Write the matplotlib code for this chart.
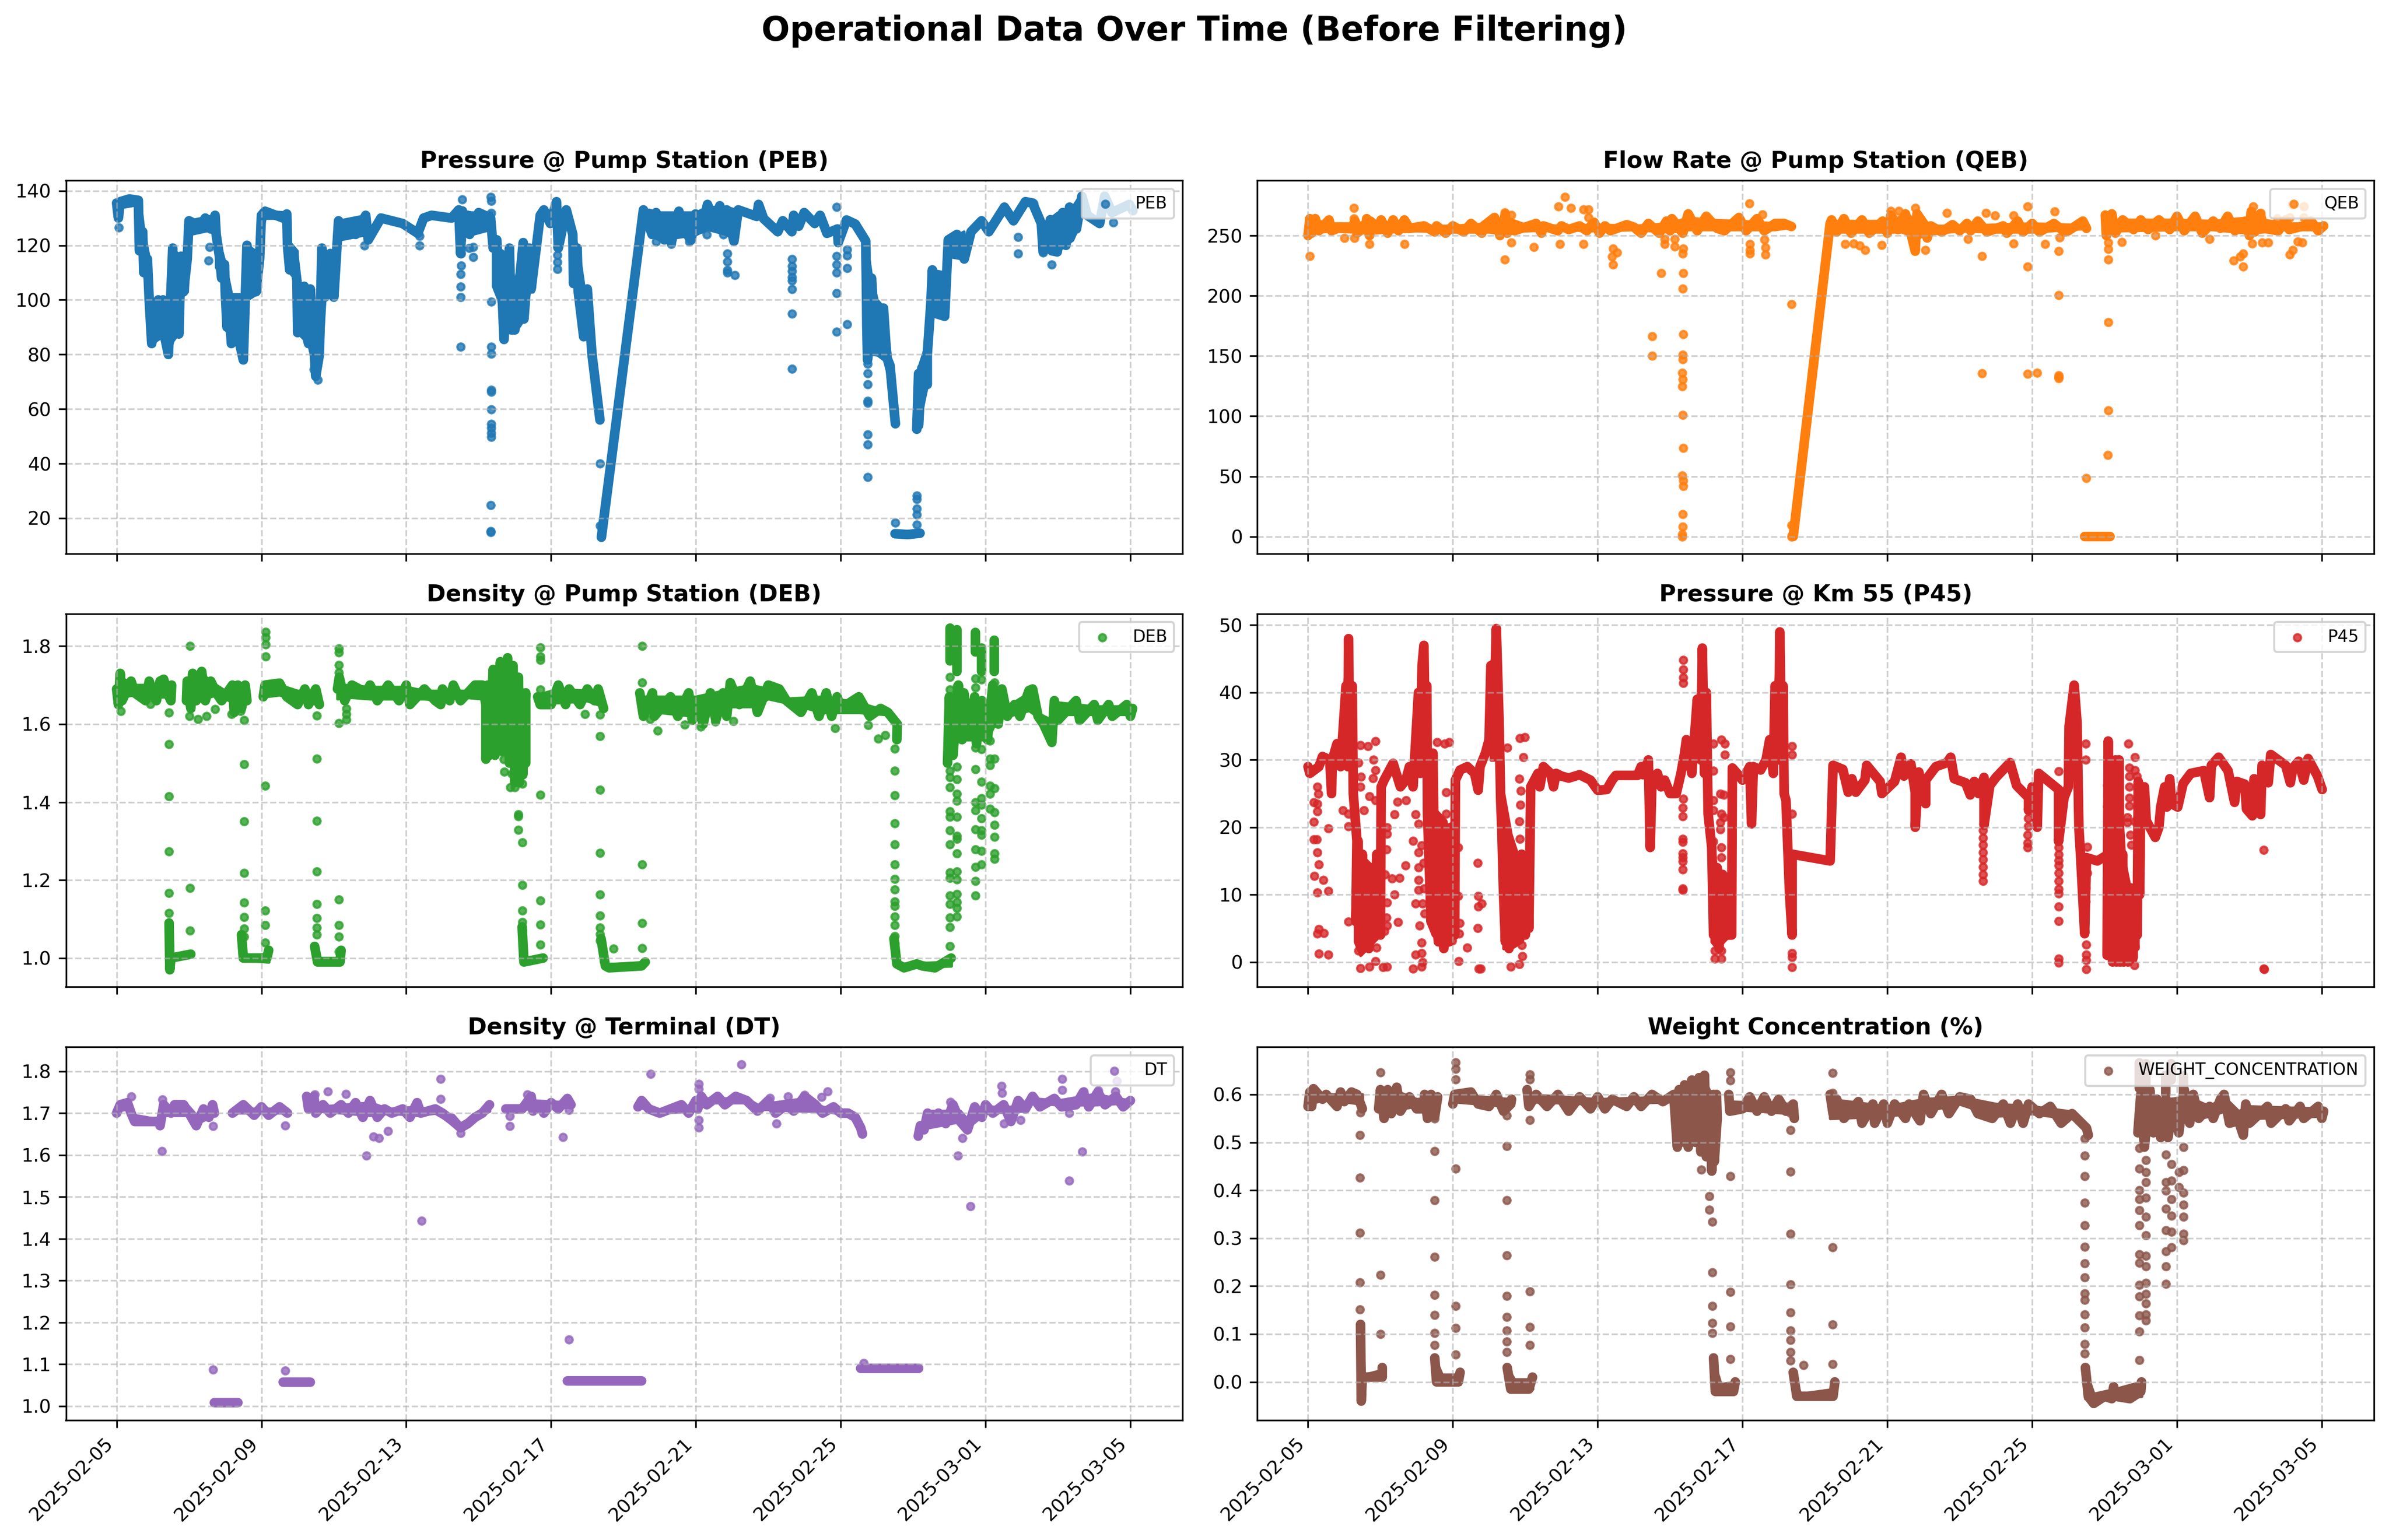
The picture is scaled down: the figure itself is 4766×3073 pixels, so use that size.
import numpy as np
import pandas as pd
import matplotlib
matplotlib.use("Agg")
import matplotlib.pyplot as plt
import matplotlib.dates as mdates

n = float("nan")
BREAK = (n, n)
GAP = (n, n, n)
START = "2025-02-05"
TICK_DATES = ["2025-02-05", "2025-02-09", "2025-02-13", "2025-02-17", "2025-02-21",
              "2025-02-25", "2025-03-01", "2025-03-05"]
TITLES = ["Pressure @ Pump Station (PEB)", "Flow Rate @ Pump Station (QEB)",
          "Density @ Pump Station (DEB)", "Pressure @ Km 55 (P45)",
          "Density @ Terminal (DT)", "Weight Concentration (%)"]
LABELS = ["PEB", "QEB", "DEB", "P45", "DT", "WEIGHT_CONCENTRATION"]
COLORS = ["#1f77b4", "#ff7f0e", "#2ca02c", "#d62728", "#9467bd", "#8c564b"]
YLIMS = [(7.0, 143.8), (-14.2, 295.8), (0.926, 1.883), (-3.7, 51.7), (0.966, 1.858), (-0.08, 0.699)]

# (days after start, value): course of each series
PEB_TRACE = [(0.0,135.5),(0.05,130),(0.1,136),(0.35,137),(0.6,136.5),(0.63,118),(0.72,125),(0.75,110),(0.85,115),(0.9,100),(0.97,84),(1.05,99),(1.1,87),(1.15,100),(1.2,88),(1.28,100),(1.32,87),(1.43,80),(1.55,119),(1.58,88),(1.65,116),(1.72,87.5),(1.78,116),(1.85,103),(1.95,115),(2.0,129),(2.3,127),(2.45,130),(2.6,126),(2.72,131),(2.75,124),(2.85,115),(2.9,108),(2.98,113),(3.0,103),(3.05,90),(3.1,100),(3.17,84),(3.25,100),(3.35,87),(3.5,78),(3.6,120),(3.68,102),(3.75,117),(3.85,103),(3.95,115),(4.0,131),(4.1,132.5),(4.6,130),(4.7,131.5),(4.72,120),(4.78,111),(4.9,116),(4.98,107),(5.0,88),(5.18,105),(5.2,90),(5.3,84),(5.35,104),(5.5,72),(5.6,80),(5.67,119),(5.75,101),(5.9,117),(6.0,101),(6.13,129),(6.3,125),(6.4,128),(6.6,124),(6.88,131),(6.95,122),(7.3,130),(7.6,129),(7.9,128),(8.32,124.4),(8.48,130),(8.7,131),(9.25,130),(9.45,133),(9.5,117),(9.55,132.6),(9.75,124),(10.0,132),(10.33,130),(10.4,119),(10.5,122),(10.55,107),(10.6,117),(10.7,85.5),(10.85,119),(10.9,89),(11.0,89),(11.23,121),(11.25,93),(11.4,119),(11.45,104),(11.7,131),(11.8,133),(11.98,128),(12.15,136),(12.2,119),(12.42,133),(12.6,124),(12.62,106),(12.72,119),(12.75,103),(12.9,86.5),(13.0,104),(13.13,80),(13.35,56),
    BREAK,(13.39,13),(14.55,133),(14.79,124),(14.9,132),(15.13,122),(15.24,130),(15.32,121),(15.53,132.5),(15.64,126),(15.87,122),(15.99,131.5),(16.17,126),(16.32,135),(16.5,128.8),(16.66,134.5),(16.76,126.6),(16.85,133),(17.05,121.5),(17.17,133),(17.68,130.6),(17.73,135),(17.87,129.8),(18.26,125),(18.4,129),(18.65,125),(18.7,131),(18.84,127),(18.99,132),(19.28,128),(19.43,131),(19.62,124.4),(19.91,126),(19.93,121),(20.16,129.3),(20.4,127.8),(20.69,121.6),(20.71,104),(20.72,90),(20.74,78),(20.85,108),(20.98,81),(21.07,81),(21.18,97),(21.27,79),(21.36,76),(21.51,54.6),
    BREAK,(21.5,14.3),(21.85,14),(22.19,14.5),
    BREAK,(22.1,52.6),(22.15,73),(22.15,54),(22.24,75),(22.39,69),(22.39,80),(22.49,99),(22.53,111),(22.63,95),(22.87,94),(22.97,122),(23.21,124),(23.41,115),(23.6,125),(23.89,129),(24.09,125),(24.52,134),(24.77,129),(25.1,136),(25.3,135.5),(25.54,128),(25.59,117.6),(25.79,129.4),(25.83,118),(25.98,117.6),(26.13,132),(26.22,120),(26.32,134),(26.51,126),(26.66,138),(26.81,131),(27.15,128),(27.29,138),(27.49,132),(27.97,135),(28.07,132.7)]
# (days after start, low, high): solid envelope of the dense stretches
PEB_BAND = [(0.15,134,137),(0.6,135,137),(0.65,118,136),(0.75,110,125),(0.9,100,115),(0.97,84,100),(1.3,87,100),(1.43,80,100),(1.55,85,119),(1.72,88,116),(1.78,103,116),(1.95,103,116),(2.0,124,129),(2.7,126,131),GAP,
    (2.75,112,128),(2.9,108,118),(3.0,90,113),(3.17,84,102),(3.4,87,102),(3.5,78,100),(3.6,100,120),(3.95,103,117),(4.0,125,131),(4.1,130,132.5),(4.7,130,132),GAP,
    (4.72,111,122),(4.98,107,118),(5.0,88,106),(5.3,84,105),(5.5,72,90),(5.65,78,119),(5.75,101,118),(6.0,101,117),(6.13,122,129),(6.9,124,131),GAP,
    (9.4,128,133),(9.8,124,132),(10.35,126,132),GAP,
    (10.4,105,122),(10.55,100,118),(10.7,85.5,100),(10.85,90,119),(11.0,88,105),(11.2,92,121),(11.4,103,119),(11.5,103,112),(11.7,125,131),GAP,
    (12.6,106,124),(12.75,103,119),(12.9,86.5,105),(13.0,88,104),(13.13,80,90),GAP,
    (14.7,124,133),(15.0,122,132),(16.0,124,132),(16.3,126,134),(16.85,124,134),(17.1,122,133),GAP,
    (20.7,88,122),(20.85,80,108),(21.0,80,100),(21.2,78,97),(21.36,70,80),GAP,
    (22.15,54,75),(22.39,69,85),(22.5,95,111),(22.87,94,110),(22.97,116,122),(23.4,115,125),GAP,
    (25.6,118,128),(26.0,118,132),(26.4,122,134),(26.6,128,138),GAP]
PEB_OUT = [(0.06,126.6),(2.56,119.4),(2.54,114.4),(6.84,120),(8.37,120),(8.37,123.4),(9.54,136.8),(10.34,137.8),(10.35,136.3),(10.35,131.8),(9.51,121.9),(9.51,116.9),(9.51,112.6),(9.5,109.4),(9.5,104.8),(9.5,101),(9.5,82.8),(9.74,119),(9.85,119.4),(9.85,115.7),(10.35,99.3),(10.35,82.8),(10.35,80.3),(10.35,67.1),(10.35,66.3),(10.35,59.8),(10.35,54.6),(10.35,53.1),(10.35,51.2),(10.35,49.7),(10.34,24.8),(10.33,14.8),(10.33,15.2),(13.35,40),(13.35,17.3),(12.17,116.4),(12.17,113.9),(12.18,111.2),(12.18,119.4),(5.56,70.6),(5.44,74.6),(14.9,121.4),(14.81,124.4),(15.32,120.4),(15.82,121.4),(19.89,134),(16.3,124),(16.76,124),(16.87,117),(16.87,114),(16.87,111),(16.87,110),(17.07,109),(18.65,115),(18.65,112.4),(18.65,110.6),(18.65,108.4),(18.65,107),(18.65,104),(18.65,95),(18.65,74.8),(19.89,116),(19.89,113),(19.89,110),(19.89,102.5),(19.89,88.3),(20.17,118.4),(20.17,116.2),(20.17,111.6),(20.17,91),(20.74,79),(20.74,76.6),(20.74,73),(20.74,69),(20.74,63),(20.74,62.3),(20.74,50.7),(20.74,47),(20.74,35),(22.1,28.2),(22.1,27),(22.1,23.5),(22.1,21.3),(22.1,17.6),(21.51,18.3),(24.9,117),(25.83,113),(25.59,117.4),(27.53,128.3),(25.32,135.3),(24.9,123)]

QEB_TRACE = [(0.0,250),(0.05,264),(0.1,252),(0.2,264),(0.3,254),(0.58,263),(0.65,254),(0.9,257),(1.2,256),(1.3,262),(1.35,252),(1.6,258),(1.62,264),(1.7,250),(1.72,262),(1.95,256),(2.02,263),(2.2,252),(2.35,263),(2.5,254),(2.66,263),(2.8,256),(3.2,258),(3.5,253),(3.55,258),(3.8,252),(4.0,258),(4.3,253),(4.5,260),(4.8,252),(4.85,258),(5.15,265),(5.3,250),(5.45,268),(5.5,252),(5.6,258),(5.7,254),(6.3,260),(6.45,252),(6.5,258),(6.9,254),(7.0,258),(7.2,255),(7.5,258),(7.7,254),(7.9,261),(8.05,252),(8.2,258),(8.35,254),(8.8,259),(9.0,257),(9.2,252),(9.4,260),(9.7,252),(9.9,262),(10.0,254),(10.05,264),(10.35,252),(10.5,268),(10.75,254),(11.0,266),(11.3,256),(11.5,254),(11.9,265),(12.1,254),(12.4,264),(12.6,254),(12.9,260),(13.15,260),(13.35,257.5),
    BREAK,(13.4,0),(14.42,260),(14.46,263),(14.6,253),(14.8,264),(15.0,252),(15.3,263),(15.5,252),(15.87,262),(16.0,252),(16.1,267),(16.3,255),(16.5,268),(16.65,252),(16.77,237),(16.82,268),(17.05,258),(17.1,248),(17.2,258),(17.5,253),(17.8,259),(18.0,254),(18.2,260),(18.3,254),(18.5,262),(18.75,253),(19.2,258),(19.3,252),(19.6,262),(19.75,253),(20.0,260),(20.2,253),(20.6,260),(20.9,253),(21.0,254),(21.4,262),(21.5,256),
    BREAK,(21.45,0),(22.15,0),
    BREAK,(22.02,267),(22.05,250),(22.2,268),(22.3,252),(22.5,263),(22.8,255),(23.0,263),(23.2,255),(23.5,263),(23.8,255),(24.0,266),(24.2,254),(24.5,266),(24.7,252),(25.0,262),(25.2,256),(25.4,266),(25.6,254),(25.9,262),(26.0,250),(26.05,270),(26.15,253),(26.3,268),(26.4,256),(26.8,254),(27.0,263),(27.1,255),(27.5,258),(27.7,262),(27.9,254),(28.05,258)]
QEB_BAND = [(0,252,262),(0.3,253,262),(0.65,254,260),(1.3,253,260),(1.7,252,262),(2.2,253,260),(3.0,254,258),(4,253,258),(5.0,253,260),(5.3,252,262),(5.45,253,265),(6,254,259),(7,255,258),(8,254,259),(9,255,258),(10,253,260),(10.5,255,265),(11,255,263),(12,255,262),(12.9,255,260),(13.35,257,260),GAP,
    (14.45,253,262),(16,253,262),(16.4,253,266),(16.85,248,265),(17.05,251,258),(18,254,258),(19,253,259),(20,253,260),(21,255,259),(21.5,256,259),GAP,
    (22.02,252,265),(22.3,254,263),(24,255,263),(25,255,262),(26,252,265),(27,255,260),(28.05,255,260)]
QEB_OUT = [(1.27,273),(1.27,264),(1.0,248),(1.28,248),(1.7,243),(2.66,243),(0.05,233),(5.44,269),(5.44,230),(5.62,267),(5.62,244),(6.23,240.5),(6.92,274),(7.09,282),(7.26,273),(6.96,243),(7.61,243),(7.61,271.5),(7.74,271.5),(7.74,265),(8.42,239),(8.4,232.6),(8.42,226),(8.53,236),(9.5,166.5),(9.5,150),(9.75,219),(10.36,219),(10.35,206),(10.36,168),(10.35,151),(10.35,147),(10.34,136),(10.35,130.5),(10.34,124.7),(10.35,101),(10.36,73.4),(10.34,50.8),(10.36,46.3),(10.36,41.8),(10.35,18.7),(10.35,8),(10.34,2),(10.34,0),(10.35,235),(10.36,239),(10.13,241),(10.13,247),(9.85,243),(9.85,247),(12.19,276.6),(12.2,235),(12.2,238),(12.2,243),(12.6,246.6),(12.63,240),(12.63,234),(12.55,267.6),(13.35,193),(13.35,9.5),(13.35,0),(13.37,1),(14.84,243),(15.07,243.5),(15.23,241.6),(15.39,238),(15.85,242),(16.1,270.5),(16.32,270.5),(16.77,273),(16.77,238.7),(17.05,238),(17.65,268.7),(18.22,247),(18.62,233),(18.72,268.7),(18.97,266.5),(19.49,266.5),(19.49,243.5),(19.88,274),(19.87,224),(20.36,243),(20.62,270),(20.73,237),(20.76,248.4),(20.73,200.5),(18.62,135.5),(19.87,135),(20.14,136),(20.73,134),(20.73,132.8),(20.73,131.4),(22.1,178),(22.1,104.6),(22.09,67.5),(21.49,48.6),(22.1,244),(22.1,238.7),(22.1,230),(22.48,244.6),(25.56,229),(25.74,232.6),(25.82,235),(25.82,224),(26.11,274),(26.31,268.7),(26.07,243.5),(26.35,244),(26.52,244),(24.9,247),(27.19,276),(27.12,234),(27.2,238),(27.33,245),(27.46,244),(27.5,274),(27.5,265),(27.11,265),(26.77,264),(23.4,250)]

DEB_TRACE = [(0.0,1.69),(0.05,1.65),(0.1,1.73),(0.15,1.66),(0.4,1.71),(0.5,1.68),(0.8,1.66),(0.9,1.71),(1.0,1.68),(1.1,1.66),(1.2,1.71),(1.3,1.715),(1.4,1.68),(1.5,1.66),(1.52,1.70),
    BREAK,(1.93,1.66),(1.95,1.71),(2.05,1.64),(2.1,1.73),(2.2,1.66),(2.35,1.735),(2.45,1.66),(2.6,1.71),(2.75,1.68),(2.9,1.66),(3.2,1.70),(3.25,1.63),(3.35,1.70),(3.45,1.64),(3.55,1.70),(3.6,1.66),
    BREAK,(4.05,1.67),(4.1,1.70),(4.5,1.705),(4.7,1.67),(5.0,1.65),(5.2,1.69),(5.3,1.65),(5.5,1.69),(5.6,1.65),
    BREAK,(6.1,1.69),(6.15,1.72),(6.3,1.66),(6.5,1.70),(6.9,1.68),(7.0,1.70),(7.2,1.66),(7.5,1.70),(7.8,1.66),(8.0,1.70),(8.1,1.65),(8.3,1.67),(8.5,1.69),(8.8,1.66),(8.95,1.65),(9.0,1.69),(9.2,1.66),(9.3,1.70),(9.5,1.66),(9.6,1.67),(9.9,1.70),(10.1,1.70),(10.2,1.65),(10.2,1.51),(10.25,1.70),(10.3,1.52),(10.4,1.74),(10.45,1.52),(10.6,1.76),(10.65,1.53),(10.8,1.77),(10.85,1.5),(10.95,1.75),(11.0,1.45),(11.1,1.72),(11.12,1.45),(11.2,1.68),(11.22,1.47),(11.3,1.68),(11.3,1.5),
    BREAK,(11.63,1.67),(11.7,1.65),(12.0,1.65),(12.2,1.70),(12.4,1.65),(12.5,1.69),(12.8,1.65),(13.0,1.69),(13.2,1.66),(13.3,1.69),(13.45,1.64),
    BREAK,(14.45,1.68),(14.55,1.62),(14.8,1.68),(14.85,1.62),(15.3,1.67),(15.5,1.62),(15.8,1.68),(15.9,1.61),(16.0,1.66),(16.2,1.60),(16.4,1.68),(16.55,1.61),(16.75,1.68),(16.85,1.62),(16.95,1.706),(17.2,1.65),(17.5,1.71),(17.7,1.63),(18.0,1.70),(18.3,1.69),(18.5,1.66),(18.9,1.63),(19.2,1.68),(19.4,1.62),(19.6,1.68),(19.75,1.62),(19.9,1.67),(20.0,1.64),(20.5,1.67),(20.8,1.62),(21.1,1.64),(21.3,1.63),(21.56,1.60),(21.55,1.56),
    BREAK,(1.45,1.09),(1.47,0.97),(1.5,1.0),(2.05,1.01),
    BREAK,(3.45,1.06),(3.5,1.0),(4.15,1.0),(4.2,1.02),
    BREAK,(5.47,1.03),(5.55,0.99),(6.17,0.99),(6.2,1.02),
    BREAK,(11.2,1.08),(11.25,0.99),(11.78,1.0),
    BREAK,(13.38,1.05),(13.5,0.98),(13.6,0.975),(14.5,0.98),(14.6,0.99),
    BREAK,(21.47,1.05),(21.55,0.985),(21.75,0.975),(22.1,0.985),(22.25,0.98),(22.6,0.975),(23.05,1.0),
    BREAK,(23.02,1.846),(23.02,1.762),BREAK,(23.21,1.842),(23.21,1.735),BREAK,(23.72,1.835),(23.72,1.785),BREAK,(23.89,1.795),(23.89,1.735),BREAK,(24.24,1.815),(24.24,1.735),
    BREAK,(22.95,1.50),(23.0,1.67),(23.1,1.52),(23.25,1.70),(23.35,1.56),(23.4,1.68),(23.55,1.57),(23.7,1.67),(23.75,1.55),(23.9,1.66),(24.05,1.56),(24.2,1.70),(24.35,1.60),(24.45,1.69),(24.6,1.62),(24.8,1.65),(24.95,1.62),(25.2,1.686),(25.3,1.69),(25.45,1.62),(25.6,1.60),(25.83,1.553),(25.9,1.66),(26.0,1.61),(26.5,1.66),(26.6,1.61),(27.0,1.65),(27.1,1.61),(27.4,1.65),(27.5,1.62),(27.9,1.65),(28.0,1.62),(28.06,1.64)]
DEB_BAND = [(0,1.66,1.70),(0.1,1.67,1.72),(0.5,1.675,1.70),(1.0,1.67,1.70),(1.5,1.67,1.70),GAP,
    (1.93,1.66,1.71),(2.1,1.65,1.725),(2.4,1.665,1.725),(2.75,1.675,1.70),(3.0,1.665,1.685),(3.25,1.655,1.69),(3.6,1.655,1.69),GAP,
    (4.05,1.67,1.695),(4.5,1.675,1.70),(5.0,1.66,1.685),(5.6,1.65,1.68),GAP,
    (6.1,1.665,1.71),(6.3,1.67,1.70),(7.0,1.665,1.695),(8.0,1.665,1.695),(8.5,1.665,1.685),(9.0,1.66,1.685),(9.5,1.67,1.685),(10.1,1.665,1.685),GAP,
    (10.2,1.52,1.69),(10.4,1.53,1.73),(10.8,1.53,1.76),(11.0,1.48,1.74),(11.2,1.48,1.67),(11.3,1.51,1.67),GAP,
    (11.63,1.655,1.675),(12.2,1.655,1.69),(13.0,1.66,1.685),(13.45,1.645,1.665),GAP,
    (14.45,1.63,1.67),(15.0,1.63,1.67),(16.0,1.62,1.67),(17.0,1.645,1.69),(17.5,1.645,1.70),(18.0,1.665,1.69),(18.5,1.655,1.665),(19.5,1.63,1.67),(20.5,1.63,1.655),(21.2,1.625,1.635),GAP,
    (1.45,0.98,1.08),(1.52,1.0,1.08),(1.55,1.005,1.01),(2.05,1.005,1.015),GAP,
    (3.45,0.995,1.05),(3.6,0.995,1.005),(4.2,0.99,1.005),GAP,
    (5.47,0.995,1.03),(5.6,0.99,1.0),(6.2,0.99,1.0),GAP,
    (11.2,0.995,1.08),(11.3,0.99,0.995),(11.78,0.995,1.0),GAP,
    (13.38,0.99,1.04),(13.5,0.98,0.985),(14.6,0.98,0.985),GAP,
    (21.47,0.99,1.04),(21.6,0.975,0.985),(23.05,0.98,0.99),GAP,
    (22.9,1.57,1.66),(23.3,1.56,1.67),(23.7,1.56,1.65),(24.05,1.56,1.66),(24.3,1.61,1.69),(24.6,1.62,1.645),(25.2,1.635,1.68),(25.5,1.615,1.625),(25.83,1.58,1.61),(26,1.625,1.655),(27,1.625,1.645),(28.05,1.625,1.645)]
DEB_OUT = [(2.03,1.80),(1.44,1.63),(1.44,1.548),(1.44,1.415),(1.44,1.274),(1.44,1.167),(1.44,1.116),(2.02,1.18),(2.02,1.07),(3.52,1.61),(3.52,1.497),(3.52,1.35),(3.52,1.218),(3.52,1.142),(3.52,1.105),(3.52,1.076),(3.52,1.055),(4.12,1.836),(4.12,1.822),(4.12,1.804),(4.12,1.773),(4.11,1.442),(4.11,1.122),(4.11,1.084),(4.11,1.04),(5.53,1.622),(5.53,1.511),(5.53,1.352),(5.53,1.222),(5.53,1.139),(5.53,1.102),(5.53,1.078),(5.53,1.06),(6.14,1.794),(6.14,1.783),(6.14,1.752),(6.14,1.732),(6.14,1.602),(6.35,1.64),(6.35,1.626),(6.35,1.611),(6.14,1.15),(6.14,1.084),(6.14,1.055),(6.14,1.017),(2.72,1.638),(2.25,1.613),(2.49,1.62),(2.01,1.62),(3.18,1.626),(3.43,1.633),(0.12,1.633),(0.93,1.651),(10.69,1.51),(10.87,1.438),(11.0,1.438),(10.7,1.478),(10.92,1.473),(11.08,1.456),(11.2,1.447),(11.1,1.369),(11.1,1.363),(11.1,1.329),(11.2,1.297),(11.2,1.187),(11.2,1.122),(11.2,1.092),(11.2,1.072),(11.71,1.797),(11.71,1.773),(11.71,1.764),(11.71,1.419),(11.71,1.147),(11.71,1.086),(11.71,1.034),(13.35,1.624),(13.35,1.569),(13.35,1.431),(13.35,1.27),(13.35,1.163),(13.35,1.109),(13.35,1.078),(13.35,1.062),(13.35,1.045),(14.52,1.80),(14.52,1.707),(14.73,1.613),(14.52,1.24),(14.52,1.09),(14.52,1.026),(13.72,1.024),(11.71,1.689),(12.93,1.626),(14.94,1.583),(15.69,1.599),(16.13,1.594),(16.54,1.606),(17.04,1.607),(19.85,1.59),(20.76,1.597),(21.03,1.562),(21.23,1.572),(21.49,1.537),(21.49,1.48),(21.49,1.417),(21.49,1.346),(21.49,1.291),(21.49,1.24),(21.49,1.203),(21.49,1.176),(21.49,1.145),(21.49,1.133),(21.49,1.106),(21.49,1.084),(21.49,1.056),(21.49,1.038),
    (23.02,1.72),(23.02,1.688),(23.02,1.658),(23.02,1.48),(23.02,1.463),(23.02,1.438),(23.02,1.376),(23.02,1.362),(23.02,1.327),(23.02,1.292),(23.02,1.219),(23.02,1.205),(23.02,1.16),(23.02,1.139),(23.02,1.104),(23.02,1.079),(23.02,1.031),
    (23.21,1.696),(23.21,1.675),(23.21,1.49),(23.21,1.459),(23.21,1.421),(23.21,1.403),(23.21,1.362),(23.21,1.313),(23.21,1.306),(23.21,1.268),(23.21,1.222),(23.21,1.201),(23.21,1.164),(23.21,1.144),(23.21,1.128),(23.21,1.106),
    (23.72,1.717),(23.72,1.693),(23.72,1.564),(23.72,1.539),(23.72,1.484),(23.72,1.4),(23.72,1.379),(23.72,1.33),(23.72,1.278),(23.72,1.233),(23.72,1.198),(23.72,1.16),
    (23.89,1.714),(23.89,1.536),(23.89,1.452),(23.89,1.41),(23.89,1.393),(23.89,1.358),(23.89,1.327),(23.89,1.316),(23.89,1.275),(23.89,1.24),
    (24.12,1.557),(24.12,1.511),(24.12,1.494),(24.12,1.442),(24.12,1.421),(24.12,1.383),
    (24.24,1.707),(24.24,1.511),(24.24,1.435),(24.24,1.374),(24.24,1.341),(24.24,1.311),(24.24,1.268),(24.24,1.254)]

P45_TRACE = [(0.0,29),(0.05,28),(0.3,29),(0.4,30.5),(0.6,30),(0.65,25),(0.67,30),(0.8,32.4),(0.9,29),(1.05,41),(1.1,29),(1.12,48),(1.15,30),(1.22,41),(1.25,25),(1.35,18),(1.32,6),(1.38,18),(1.42,3),(1.5,16),(1.55,4),(1.62,14),(1.68,2),(1.78,14),(1.82,4),(1.9,16),(2.0,4),(2.02,26),(2.1,27),(2.35,29.5),(2.55,26),(2.7,27),(2.8,29),(2.9,26),(3.05,40),(3.1,28),(3.15,44),(3.2,47),(3.25,28),(3.28,41),(3.3,22),(3.4,6),(3.45,31),(3.5,10),(3.6,3),(3.65,20),(3.75,2),(3.8,18),(3.9,3),(3.95,20),(4.05,4),(4.07,27),(4.2,28.5),(4.4,29),(4.6,28),(4.7,25.5),(4.75,29),(4.9,31),(5.0,33),(5.05,44),(5.15,40),(5.2,49.5),(5.28,35),(5.32,24),(5.35,20),(5.4,10),(5.45,3),(5.5,14),(5.55,2),(5.6,14),(5.7,4),(5.75,13),(5.85,5),(5.9,16),(6.0,4),(6.05,13),(6.1,5),(6.15,26),(6.25,27),(6.35,28),(6.4,26),(6.5,29),(6.7,28),(6.78,26),(6.85,28),(7.0,27.6),(7.2,27.3),(7.5,27.8),(7.8,27),(8.0,25.5),(8.25,25.6),(8.4,27),(8.5,27.7),(9.1,27.7),(9.2,29),(9.25,27.8),(9.4,30),(9.45,17),(9.5,27),(9.65,28),(9.75,26),(9.85,27),(10.0,25),(10.17,25),(10.3,28),(10.4,31),(10.45,33),(10.6,28),(10.75,39),(10.85,30),(10.89,46.6),(10.95,28),(11.0,40),(11.05,22),(11.15,17),(11.2,4),(11.3,14),(11.35,2),(11.45,13),(11.55,4),(11.7,4),(11.72,28.8),(11.85,28),(12.0,27),(12.2,29),(12.25,20.5),(12.3,29),(12.5,28.5),(12.65,30),(12.75,33),(12.85,28),(12.9,41),(13.0,30),(13.03,49),(13.08,30),(13.12,41),(13.15,25),(13.2,24),(13.3,10),(13.37,4),(13.37,16),(14.42,15),(14.5,29.2),(14.77,28.6),(14.92,25.2),(15.02,27.2),(15.13,25.2),(15.38,27),(15.43,29.2),(15.8,26.8),(15.85,25),(16.2,26.8),(16.38,30.4),(16.46,27.6),(16.65,29.4),(16.77,25.2),(16.77,20),(16.87,28.2),(17.06,23.5),(17.06,27),(17.34,29),(17.65,29.6),(17.75,30.4),(17.85,27.2),(18.16,26.6),(18.29,24.8),(18.4,26.8),(18.52,25),(18.67,27.4),(18.67,20.3),(18.83,26.2),(19.0,27.4),(19.39,29.6),(19.57,26.2),(19.9,24.4),(19.9,22.5),(20.0,26),(20.14,20),(20.18,28),(20.73,25.6),(20.73,17.9),(20.88,24.4),(21.0,26),(21.02,35),(21.16,41.1),(21.24,35.5),(21.29,20),(21.34,15.5),(21.45,4.2),(21.5,15.5),(21.8,15),(22.2,16.3),
    BREAK,(22.07,1),(22.1,32.8),(22.13,1),(22.18,25),(22.22,0),(22.3,30),(22.33,0),(22.4,30),(22.43,0),(22.5,16),(22.53,0),(22.6,10),(22.65,0),(22.72,11),(22.78,0.5),(22.85,10),(22.9,4),(22.93,26.8),(22.97,10),(23.0,26),(23.1,26),(23.15,21),(23.25,20),(23.4,18.5),(23.5,20),(23.55,23),(23.66,26),(23.72,23),(23.8,27.2),(23.85,23.5),(24.02,23),(24.17,26.5),(24.38,28),(24.74,28.4),(24.9,24.4),(24.95,29.2),(25.15,30.4),(25.41,28.4),(25.59,23.7),(25.65,26.8),(25.87,26.4),(25.92,22.7),(26.08,21.7),(26.13,27.2),(26.31,21.9),(26.35,29.2),(26.52,26.6),(26.59,30.8),(27.0,29.2),(27.13,26.6),(27.2,28.8),(27.36,29.8),(27.5,27),(27.62,30.2),(27.88,27.6),(28.01,25.6)]
P45_BAND = [(1.0,30,41),(1.12,30,47),(1.17,30,41),(1.22,26,32),GAP,(1.3,3,17),(1.45,1,16),(2.0,4,13),GAP,
    (3.05,28,40),(3.15,28,44),(3.2,30,46),(3.28,28,41),GAP,(3.3,6,29),(3.45,4,23),(3.8,2,21),(4.05,4,15),GAP,
    (5.05,30,44),(5.2,30,48.5),(5.28,30,44),GAP,(5.4,2,25),(5.6,2,19),(5.9,3,14),(6.05,5,12),GAP,
    (10.75,30,39),(10.89,30,45),(11.0,26,40),GAP,(11.15,3,19),(11.3,2,13),(11.65,4,12),GAP,
    (12.9,32,41),(13.03,30,48),(13.12,28,41),GAP,
    (21.02,26,35),(21.16,30,40),(21.24,26,35),GAP,
    (22.07,1,17),(22.2,1,23),(22.4,1,29),(22.55,1,15),(22.7,1,11),(22.92,2,9)]
P45_OUT = [(0.25,26),(0.29,25),(0.16,23.7),(0.25,23.5),(0.25,22.4),(0.16,20.8),(0.56,19.8),(0.16,18.2),(0.24,18.2),(0.25,16.3),(0.3,14.5),(0.17,12.8),(0.42,12.2),(0.25,10.3),(0.56,10.5),(0.3,4.9),(0.25,4.2),(0.43,4.3),(0.3,1.2),(0.56,1.1),(0.96,22.5),(1.12,22),(1.12,20.1),(1.12,6),(1.46,27.5),(1.54,22.5),(1.44,32.2),(1.86,32.8),(1.65,32),(1.79,27.3),(1.86,28.5),(1.7,24.6),(1.86,24),(1.44,26),(1.39,29.6),(1.81,30),(2.13,13),(2.18,20),(2.18,19),(2.16,16.7),(2.32,12.4),(2.53,12.5),(2.39,10),(2.18,8.8),(2.16,6.6),(2.11,4.6),(2.18,5.4),(2.48,5.9),(1.89,2.1),(2.07,-0.8),(2.18,-0.7),(1.44,-0.9),(1.7,-0.7),(1.86,0.1),(1.39,1.7),(2.47,23.8),(2.71,24),(2.39,21.9),(2.69,14.3),(2.9,18),(2.97,21.9),(3.05,20.5),(3.13,17.3),(3.05,16.3),(3.05,14),(3.19,14.7),(3.05,12.2),(3.05,10.7),(3.2,10.9),(2.97,8.7),(3.16,8.7),(3.08,5.4),(3.22,7.2),(3.13,2.9),(2.97,1.1),(3.13,1.3),(2.9,-1),(3.13,-0.7),(3.16,0),(3.56,32.6),(3.77,32.4),(3.9,32.6),(3.82,25.2),(3.82,22),(3.8,18.3),(4.14,9.8),(4.14,17),(4.19,5.8),(4.17,4.2),(4.4,2.1),(4.16,0.1),(3.98,3.2),(4.69,14.7),(4.7,9.8),(4.7,8.2),(4.8,8.7),(4.68,5),(4.72,-1),(4.77,-1),(5.51,31.8),(5.85,33.2),(5.99,33.4),(5.94,30.4),(5.83,27.2),(5.88,25.4),(5.86,23.3),(5.83,20.9),(5.85,18.3),(5.85,15.9),(5.88,14.9),(5.9,2.5),(5.6,-0.7),(5.83,-0.3),(5.92,0.9),(10.36,44.8),(10.36,43.4),(10.36,42.2),(10.36,41.4),(10.36,24.2),(10.35,22.9),(10.35,21.6),(10.35,18.3),(10.35,17.8),(10.35,16.1),(10.35,15.5),(10.35,14.9),(10.35,13.7),(10.35,10.9),(10.35,10.7),(11.2,32.4),(11.41,33),(11.51,32.4),(11.2,28.4),(11.51,30.8),(11.39,25),(11.49,24.8),(11.2,24),(11.2,22.5),(11.41,22),(11.49,21.5),(11.39,20.7),(11.39,19.7),(11.2,17.9),(11.41,17),(11.41,15.5),(11.23,1.7),(11.23,0.5),(11.41,1.7),(11.41,0.5),(13.37,32),(13.37,30.8),(13.37,22),(13.37,1.3),(13.37,0.7),(13.37,-0.8),(20.73,28.3),(20.73,17),(20.73,16),(20.73,15.1),(20.73,14.3),(20.73,13.2),(20.73,12),(20.73,10.8),(20.73,10.2),(20.73,8.2),(20.73,6.1),(20.73,0.5),(20.73,-0.1),(18.64,19.5),(18.64,18.4),(18.64,17.4),(18.64,16.3),(18.64,15.2),(18.64,14.1),(18.64,13),(18.64,12),(19.89,21.3),(19.89,20.1),(19.87,18.9),(19.87,17.7),(19.87,17),(26.4,16.6),(26.4,-1),(26.41,-1.1),(21.48,32.4),(21.48,30),(21.52,17.1),(21.52,13.2),(21.48,11),(21.48,9),(21.49,2.6),(21.5,1.1),(21.5,0.3),(21.5,-1.1),(22.07,26.2),(22.12,25),(22.07,23.1),(22.1,18.8),(22.63,21.5),(22.63,20.7),(22.71,18.9),(22.74,17.4),(22.66,32.4),(22.68,28.8),(22.84,28.5),(22.89,27.6),(22.68,27.6),(22.68,26),(22.68,24.4),(22.68,23.2),(22.84,30.4),(22.84,20.9),(22.84,2.3),(22.82,-0.5)]

DT_TRACE = [(0.0,1.70),(0.1,1.72),(0.3,1.725),(0.4,1.70),(0.5,1.68),(1.2,1.68),(1.2,1.67),(1.3,1.72),(1.5,1.70),(1.6,1.72),(1.85,1.72),(2.0,1.70),(2.2,1.67),(2.4,1.71),(2.55,1.69),(2.65,1.72),(2.7,1.70),
    BREAK,(3.2,1.70),(3.5,1.72),(3.8,1.695),(4.0,1.715),(4.2,1.695),(4.5,1.715),(4.72,1.70),
    BREAK,(5.25,1.74),(5.3,1.71),(5.45,1.74),(5.5,1.70),(5.7,1.72),(5.9,1.70),(6.2,1.72),(6.4,1.70),(6.6,1.725),(6.8,1.69),(7.0,1.73),(7.2,1.69),(7.4,1.71),(7.6,1.70),(7.9,1.71),(8.1,1.69),(8.3,1.725),(8.4,1.70),(8.8,1.71),(9.0,1.70),(9.3,1.68),(9.5,1.665),(9.7,1.675),(9.9,1.69),(10.1,1.70),(10.3,1.72),
    BREAK,(10.75,1.71),(11.2,1.71),(11.45,1.74),(11.5,1.705),(11.7,1.72),(11.8,1.70),(12.0,1.725),(12.2,1.71),(12.45,1.735),(12.55,1.72),
    BREAK,(14.4,1.715),(14.5,1.73),(14.7,1.71),(15.0,1.70),(15.3,1.71),(15.6,1.72),(15.8,1.70),(16.0,1.73),(16.05,1.71),(16.15,1.74),(16.3,1.72),(16.6,1.74),(16.8,1.72),(17.1,1.74),(17.4,1.73),(17.7,1.705),(18.0,1.73),(18.2,1.70),(18.5,1.72),(18.7,1.705),(19.0,1.74),(19.3,1.72),(19.5,1.70),(19.8,1.715),(20.0,1.70),(20.2,1.70),(20.4,1.69),(20.55,1.665),(20.6,1.65),
    BREAK,(22.14,1.645),(22.2,1.67),(22.3,1.66),(22.4,1.70),(22.5,1.68),(22.7,1.70),(22.9,1.675),(23.1,1.72),(23.3,1.68),(23.5,1.66),(23.7,1.715),(23.9,1.69),(24.0,1.72),(24.2,1.70),(24.5,1.72),(24.7,1.68),(24.9,1.73),(25.1,1.71),(25.3,1.74),(25.5,1.715),(25.9,1.735),(26.1,1.715),(26.5,1.72),(26.7,1.75),(26.85,1.715),(27.1,1.75),(27.3,1.72),(27.6,1.74),(27.8,1.715),(28.0,1.73),
    BREAK,(2.7,1.008),(3.35,1.008),BREAK,(4.6,1.057),(5.35,1.057),BREAK,(12.45,1.06),(14.5,1.06),BREAK,(20.55,1.09),(22.15,1.09)]
DT_BAND = [(0,1.705,1.715),(0.3,1.71,1.72),(0.5,1.685,1.695),(1.15,1.68,1.685),(1.3,1.695,1.715),(2.0,1.695,1.715),(2.2,1.675,1.695),(2.7,1.695,1.715),GAP,
    (3.2,1.70,1.71),(4.72,1.70,1.71),GAP,
    (5.25,1.715,1.735),(5.6,1.705,1.715),(7.0,1.695,1.725),(7.5,1.70,1.71),(8.3,1.695,1.715),(8.8,1.70,1.705),(9.3,1.675,1.695),(9.5,1.67,1.675),(10.3,1.705,1.715),GAP,
    (10.75,1.708,1.712),(11.3,1.71,1.715),(11.5,1.71,1.73),(12.55,1.715,1.725),GAP,
    (14.4,1.715,1.72),(15,1.70,1.705),(15.8,1.705,1.715),(16.15,1.725,1.735),(17.4,1.725,1.735),(17.7,1.71,1.72),(19,1.705,1.735),(19.5,1.705,1.715),(20.3,1.695,1.70),GAP,
    (22.4,1.665,1.705),(23.3,1.68,1.705),(23.5,1.665,1.685),(24,1.70,1.715),(25,1.705,1.715),(25.3,1.725,1.735),(26,1.72,1.73),(27,1.72,1.745),(28,1.725,1.73)]
DT_OUT = [(1.25,1.609),(0.4,1.74),(1.27,1.732),(2.67,1.669),(2.67,1.087),(4.66,1.67),(4.66,1.084),(6.9,1.598),(7.09,1.644),(7.24,1.64),(7.49,1.657),(5.84,1.752),(6.33,1.746),(5.48,1.744),(8.42,1.443),(8.95,1.782),(8.95,1.734),(9.5,1.652),(10.86,1.669),(10.86,1.693),(11.34,1.744),(12.32,1.643),(12.49,1.159),(12.49,1.707),(14.75,1.794),(16.08,1.77),(16.08,1.758),(16.08,1.683),(16.08,1.666),(17.25,1.816),(18.05,1.736),(18.22,1.675),(18.54,1.74),(19.0,1.743),(19.47,1.738),(19.64,1.752),(20.63,1.103),(23.24,1.598),(23.36,1.64),(23.03,1.726),(23.58,1.478),(24.51,1.675),(24.44,1.765),(24.46,1.748),(24.97,1.683),(26.12,1.782),(26.12,1.755),(26.31,1.538),(26.31,1.7),(26.67,1.608),(26.71,1.752),(27.11,1.754),(27.62,1.777),(27.58,1.752)]

WC_TRACE = [(0.0,.575),(0.05,.605),(0.1,.575),(0.15,.612),(0.4,.59),(0.5,.6),(0.8,.575),(0.9,.605),(1.0,.585),(1.2,.605),(1.35,.6),(1.45,.58),(1.5,.57),
    BREAK,(1.95,.57),(2.0,.61),(2.1,.55),(2.2,.61),(2.3,.56),(2.45,.615),(2.55,.565),(2.8,.595),(3.0,.57),(3.2,.57),(3.22,.6),(3.3,.55),(3.4,.60),(3.5,.555),(3.58,.595),
    BREAK,(4.0,.58),(4.05,.60),(4.5,.605),(4.7,.58),(5.0,.575),(5.2,.6),(5.4,.565),(5.6,.58),(5.62,.59),
    BREAK,(6.05,.61),(6.1,.575),(6.3,.6),(6.6,.575),(6.9,.6),(7.2,.565),(7.5,.595),(7.8,.57),(8.0,.595),(8.2,.57),(8.4,.59),(8.8,.575),(9.0,.595),(9.2,.575),(9.5,.6),(9.8,.585),(10.1,.6),(10.2,.49),(10.25,.61),(10.3,.5),(10.4,.62),(10.5,.49),(10.6,.63),(10.7,.50),(10.8,.635),(10.85,.48),(10.95,.64),(11.0,.47),(11.1,.6),(11.15,.44),(11.2,.6),(11.22,.46),(11.3,.55),(11.28,.6),
    BREAK,(11.62,.6),(11.65,.565),(12.0,.57),(12.2,.595),(12.4,.565),(12.6,.595),(12.8,.565),(13.0,.59),(13.2,.565),(13.4,.58),(13.43,.55),
    BREAK,(14.42,.6),(14.5,.56),(14.6,.59),(14.8,.55),(15.2,.585),(15.3,.54),(15.6,.58),(15.65,.54),(15.9,.58),(16.0,.54),(16.2,.58),(16.5,.55),(16.6,.58),(16.9,.545),(17.0,.6),(17.2,.56),(17.5,.6),(17.7,.56),(18.0,.595),(18.3,.59),(18.5,.56),(18.9,.55),(19.2,.58),(19.4,.54),(19.6,.58),(19.75,.54),(19.9,.58),(20.2,.56),(20.5,.575),(20.8,.54),(21.1,.56),(21.3,.545),(21.5,.53),(21.55,.515),
    BREAK,(22.96,.666),(22.96,.613),BREAK,(23.14,.664),(23.14,.606),BREAK,(23.69,.64),(23.69,.60),BREAK,(23.84,.664),(23.84,.63),BREAK,(24.18,.639),(24.18,.578),
    BREAK,(22.92,.52),(23.0,.6),(23.1,.49),(23.25,.61),(23.35,.52),(23.45,.59),(23.55,.51),(23.7,.59),(23.75,.51),(23.9,.58),(24.05,.52),(24.2,.61),(24.35,.54),(24.45,.6),(24.6,.55),(24.9,.575),(25.0,.55),(25.2,.59),(25.3,.60),(25.45,.54),(25.7,.545),(25.83,.515),(25.9,.58),(26.0,.54),(26.5,.575),(26.6,.54),(27.0,.57),(27.1,.545),(27.4,.575),(27.5,.55),(27.9,.575),(28.0,.55),(28.05,.565),
    BREAK,(1.45,.12),(1.47,-.04),(1.5,.01),(2.05,.01),(2.05,.03),
    BREAK,(3.5,.05),(3.55,0),(4.15,0),(4.2,.02),
    BREAK,(5.5,.03),(5.6,-.015),(6.1,-.015),(6.2,.01),
    BREAK,(11.2,.05),(11.25,-.02),(11.75,-.02),(11.8,0),
    BREAK,(13.4,.02),(13.5,-.03),(14.5,-.03),(14.55,0),
    BREAK,(21.47,.03),(21.55,-.03),(21.7,-.045),(22.0,-.03),(22.2,-.035),(22.25,-.01),(22.3,-.03),(22.7,-.035),(23.0,-.02),(23.02,0)]
WC_BAND = [(0,.58,.60),(0.5,.59,.60),(1.5,.58,.60),GAP,
    (1.95,.565,.60),(2.5,.57,.605),(3.0,.575,.59),(3.6,.565,.595),GAP,
    (4.0,.585,.60),(5.6,.575,.59),GAP,
    (6.05,.585,.60),(8,.58,.59),(10.1,.585,.595),GAP,
    (10.2,.50,.60),(10.6,.51,.62),(10.95,.48,.63),(11.2,.45,.59),(11.3,.51,.57),GAP,
    (11.62,.57,.585),(13.4,.56,.58),GAP,
    (14.42,.55,.59),(16,.555,.575),(17,.565,.59),(18,.58,.595),(19,.555,.58),(20,.56,.575),(21,.55,.565),GAP,
    (22.92,.53,.59),(23.4,.53,.59),(23.75,.53,.59),(24.3,.545,.595),(24.9,.555,.575),(25.3,.565,.595),(25.7,.545,.565),(26.0,.55,.575),(28.05,.555,.57),GAP,
    (1.45,-.035,.11),(1.5,0,.11),(1.55,.005,.015),(2.07,.005,.025),GAP,
    (3.5,-.005,.05),(3.7,-.005,.015),(4.2,-.005,.015),GAP,
    (5.5,-.01,.03),(5.7,-.015,.005),(6.2,-.015,.005),GAP,
    (11.2,-.015,.045),(11.4,-.02,-.005),(11.8,-.015,0),GAP,
    (13.4,-.03,.015),(13.6,-.03,-.025),(14.55,-.03,-.015),GAP,
    (21.47,-.035,.025),(21.7,-.04,-.025),(22.3,-.035,-.015),(23.02,-.03,0)]
WC_OUT = [(1.45,.562),(1.43,.515),(1.43,.426),(1.43,.311),(1.43,.208),(1.43,.151),(2.0,.223),(2.0,.1),(2.0,.646),(3.49,.482),(3.49,.379),(3.49,.261),(3.49,.181),(3.49,.14),(3.49,.102),(3.49,.077),(3.49,.55),(4.08,.667),(4.08,.653),(4.08,.631),(4.08,.445),(4.08,.159),(4.08,.112),(4.08,.057),(5.49,.556),(5.49,.492),(5.49,.379),(5.49,.264),(5.49,.179),(5.49,.136),(5.49,.107),(5.49,.084),(5.49,.062),(6.12,.642),(6.12,.631),(6.12,.547),(6.12,.189),(6.12,.115),(6.12,.077),(11.67,.646),(11.67,.629),(11.67,.429),(11.67,.188),(11.67,.116),(11.67,.048),(11.08,.388),(11.08,.359),(11.16,.334),(11.16,.229),(11.16,.159),(11.16,.123),(11.16,.102),(10.86,.443),(11.14,.449),(13.33,.561),(13.33,.526),(13.33,.439),(13.33,.309),(13.33,.203),(13.33,.145),(13.33,.107),(13.33,.087),(13.33,.062),(13.33,.044),(14.49,.645),(14.49,.603),(14.49,.281),(14.49,.12),(14.49,.037),(13.69,.035),
    (21.45,.508),(21.45,.472),(21.45,.429),(21.45,.374),(21.45,.327),(21.45,.282),(21.45,.247),(21.45,.218),(21.45,.185),(21.45,.171),(21.45,.141),(21.45,.114),(21.45,.079),(21.45,.059),
    (22.96,.488),(22.96,.445),(22.96,.4),(22.96,.381),(22.96,.358),(22.96,.327),(22.96,.266),(22.96,.248),(22.96,.202),(22.96,.178),(22.96,.139),(22.96,.105),(22.96,.046),
    (23.14,.463),(23.14,.438),(23.14,.417),(23.14,.384),(23.14,.345),(23.14,.306),(23.14,.263),(23.14,.241),(23.14,.207),(23.14,.184),(23.14,.164),(23.14,.141),(23.14,.128),
    (23.69,.474),(23.69,.417),(23.69,.399),(23.69,.361),(23.69,.316),(23.69,.273),(23.69,.241),(23.69,.204),
    (23.84,.454),(23.84,.42),(23.84,.381),(23.84,.347),(23.84,.313),(23.84,.281),
    (24.06,.438),(24.06,.406),
    (24.18,.49),(24.18,.442),(24.18,.395),(24.18,.37),(24.18,.345),(24.18,.309),(24.18,.295)]

TRACES = [PEB_TRACE, QEB_TRACE, DEB_TRACE, P45_TRACE, DT_TRACE, WC_TRACE]
BANDS = [PEB_BAND, QEB_BAND, DEB_BAND, P45_BAND, DT_BAND, WC_BAND]
OUTLIERS = [PEB_OUT, QEB_OUT, DEB_OUT, P45_OUT, DT_OUT, WC_OUT]


def to_dates(days):
    return pd.Timestamp(START) + pd.to_timedelta(np.asarray(days, dtype=float), unit="D")


def split_band(rows):
    parts, cur = [], []
    for r in rows:
        if r[0] != r[0]:
            if cur:
                parts.append(np.array(cur, dtype=float))
            cur = []
        else:
            cur.append(r)
    if cur:
        parts.append(np.array(cur, dtype=float))
    return parts


W, H = 4766, 3073
fig, axes = plt.subplots(3, 2, figsize=(W / 300, H / 300), dpi=300, sharex=True)
fig.subplots_adjust(left=131.5 / W, right=4736 / W, top=1 - 360 / H, bottom=1 - 2834 / H,
                    wspace=0.067, hspace=0.161)

for i, ax in enumerate(axes.flat):
    tr = np.array(TRACES[i], dtype=float)
    ou = np.array(OUTLIERS[i], dtype=float)
    ax.plot(to_dates(tr[:, 0]), tr[:, 1], color=COLORS[i], lw=4.6, zorder=1,
            solid_capstyle="round", solid_joinstyle="round")
    for part in split_band(BANDS[i]):
        ax.fill_between(to_dates(part[:, 0]), part[:, 1], part[:, 2], color=COLORS[i], lw=1.5,
                        zorder=1, joinstyle="round", capstyle="round")
    ax.scatter(to_dates(ou[:, 0]), ou[:, 1], s=12, color=COLORS[i], alpha=0.8, label=LABELS[i], zorder=1)
    ax.set_title(TITLES[i], fontsize=11, fontweight="bold")
    ax.grid(True, linestyle="--", alpha=0.6)
    ax.legend(loc="upper right", fontsize=8)
    ax.set_ylim(*YLIMS[i])
    ax.tick_params(labelsize=9)

axes[0, 0].set_xlim(to_dates([-1.40])[0], to_dates([29.44])[0])
axes[0, 0].set_xticks(pd.to_datetime(TICK_DATES))
axes[0, 0].xaxis.set_major_formatter(mdates.DateFormatter("%Y-%m-%d"))
for ax in axes[2]:
    ax.tick_params(axis="x", labelbottom=True)
    plt.setp(ax.get_xticklabels(), rotation=45, ha="right")

fig.suptitle("Operational Data Over Time (Before Filtering)", fontsize=16, fontweight="bold", y=1 - 62 / H, va="center")
fig.savefig("out.png", dpi=300)
